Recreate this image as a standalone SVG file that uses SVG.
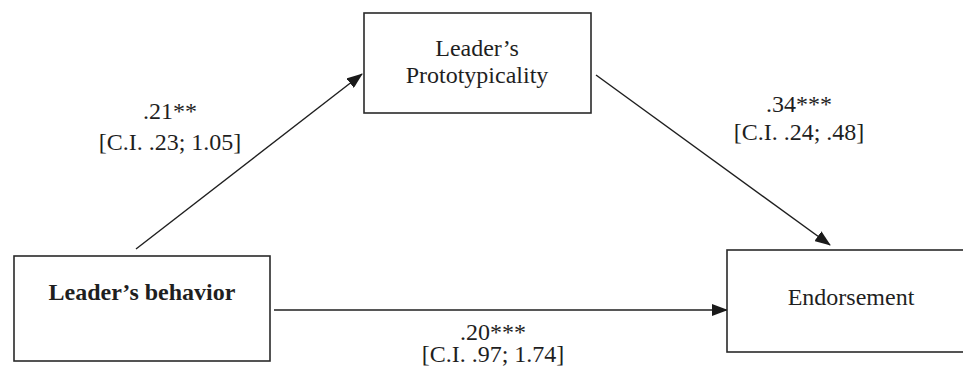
<svg xmlns="http://www.w3.org/2000/svg" width="963" height="374" viewBox="0 0 963 374">
<defs>
<marker id="ah" markerWidth="16" markerHeight="12" refX="15" refY="6" orient="auto" markerUnits="userSpaceOnUse">
<path d="M0,0 L16,6 L0,12 Z" fill="#1a1a1a"/>
</marker>
<style>
.box{fill:#fff;stroke:#2a2a2a;stroke-width:1.6}
.t{font-family:"Liberation Serif","Times New Roman",serif;font-size:24px;fill:#1f1f1f;text-anchor:middle}
.b{font-weight:bold}
.c{stroke:#1f1f1f;stroke-width:1.4;fill:none;marker-end:url(#ah)}
</style>
</defs>
<rect width="963" height="374" fill="#fff"/>
<g id="connectors">
<line class="c" x1="136" y1="249" x2="362" y2="74"/>
<line class="c" x1="596" y1="75" x2="830" y2="245"/>
<line class="c" x1="274" y1="310" x2="727" y2="310"/>
</g>
<g id="node-behavior">
<rect class="box" x="14" y="256" width="256" height="105"/>
<text class="t b" x="142" y="300">Leader’s behavior</text>
</g>
<g id="node-prototypicality">
<rect class="box" x="364" y="13" width="227" height="100"/>
<text class="t" x="477" y="56">Leader’s</text>
<text class="t" x="477" y="83">Prototypicality</text>
</g>
<g id="node-endorsement">
<rect class="box" x="727" y="250" width="250" height="102"/>
<text class="t" x="851" y="305">Endorsement</text>
</g>
<g id="labels">
<text class="t" x="170" y="119">.21**</text>
<text class="t" x="170" y="150">[C.I. .23; 1.05]</text>
<text class="t" x="799" y="112">.34***</text>
<text class="t" x="799" y="140">[C.I. .24; .48]</text>
<text class="t" x="493" y="340">.20***</text>
<text class="t" x="493" y="362">[C.I. .97; 1.74]</text>
</g>
</svg>
